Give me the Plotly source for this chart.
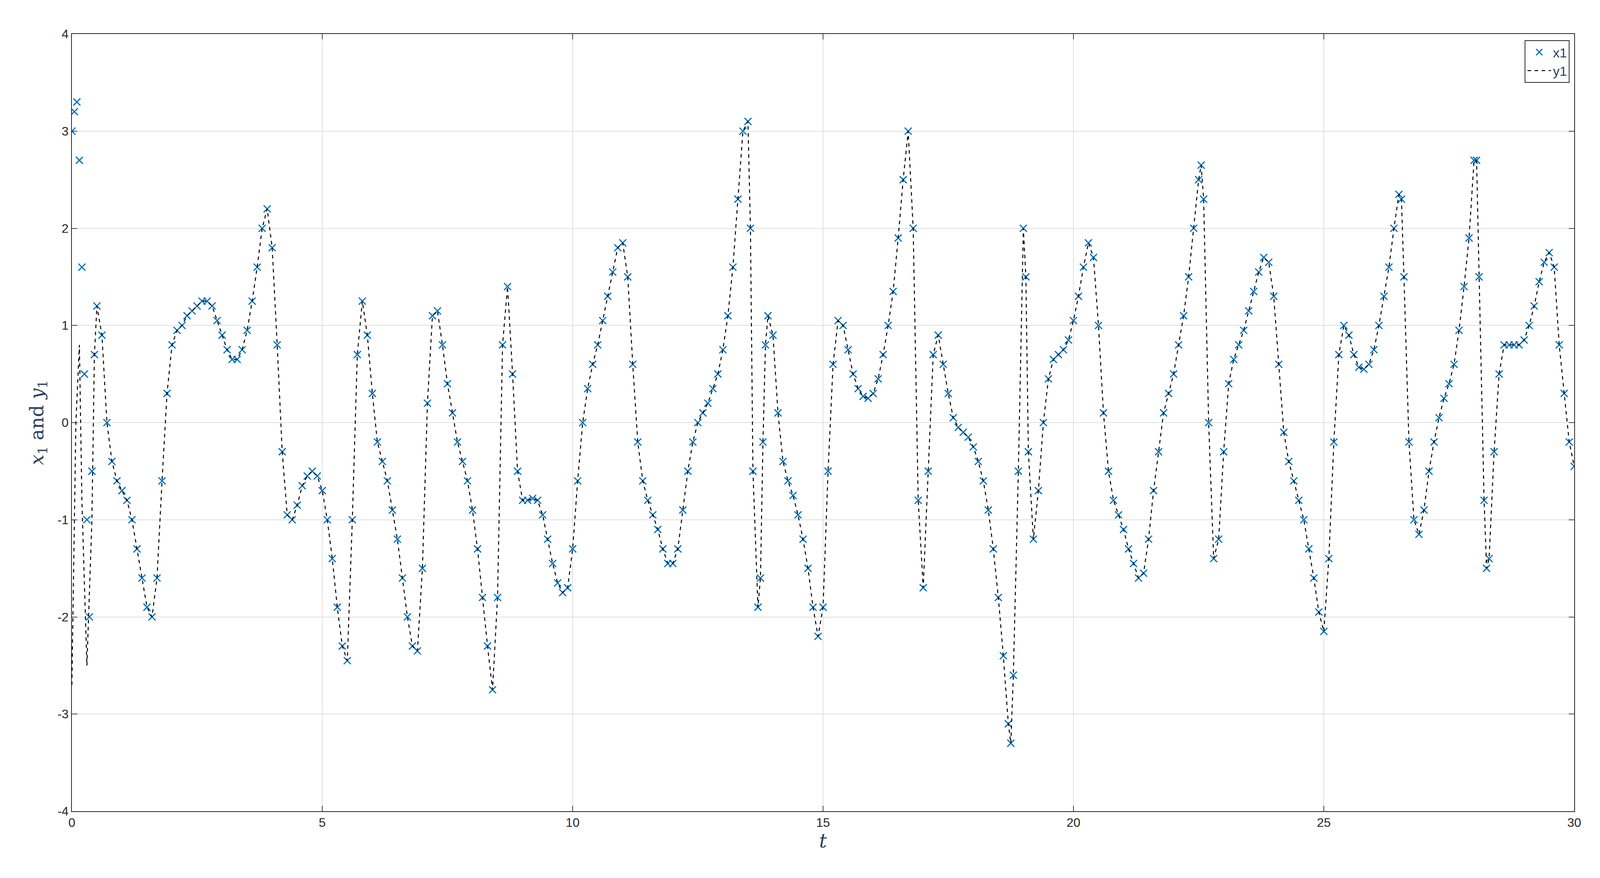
import plotly.graph_objects as go

# x1, (t, value) pairs
x1_pts = [
    (0.0, 3.0), (0.05, 3.2), (0.1, 3.3), (0.15, 2.7), (0.2, 1.6), (0.25, 0.5), (0.3, -1.0), (0.35, -2.0),
    (0.4, -0.5), (0.45, 0.7), (0.5, 1.2), (0.6, 0.9), (0.7, 0.0), (0.8, -0.4), (0.9, -0.6), (1.0, -0.7),
    (1.1, -0.8), (1.2, -1.0), (1.3, -1.3), (1.4, -1.6), (1.5, -1.9), (1.6, -2.0), (1.7, -1.6), (1.8, -0.6),
    (1.9, 0.3), (2.0, 0.8), (2.1, 0.95), (2.2, 1.0), (2.3, 1.1), (2.4, 1.15), (2.5, 1.2), (2.6, 1.25),
    (2.7, 1.25), (2.8, 1.2), (2.9, 1.05), (3.0, 0.9), (3.1, 0.75), (3.2, 0.65), (3.3, 0.65), (3.4, 0.75),
    (3.5, 0.95), (3.6, 1.25), (3.7, 1.6), (3.8, 2.0), (3.9, 2.2), (4.0, 1.8), (4.1, 0.8), (4.2, -0.3),
    (4.3, -0.95), (4.4, -1.0), (4.5, -0.85), (4.6, -0.65), (4.7, -0.55), (4.8, -0.5), (4.9, -0.55),
    (5.0, -0.7), (5.1, -1.0), (5.2, -1.4), (5.3, -1.9), (5.4, -2.3), (5.5, -2.45), (5.6, -1.0), (5.7, 0.7),
    (5.8, 1.25), (5.9, 0.9), (6.0, 0.3), (6.1, -0.2), (6.2, -0.4), (6.3, -0.6), (6.4, -0.9), (6.5, -1.2),
    (6.6, -1.6), (6.7, -2.0), (6.8, -2.3), (6.9, -2.35), (7.0, -1.5), (7.1, 0.2), (7.2, 1.1), (7.3, 1.15),
    (7.4, 0.8), (7.5, 0.4), (7.6, 0.1), (7.7, -0.2), (7.8, -0.4), (7.9, -0.6), (8.0, -0.9), (8.1, -1.3),
    (8.2, -1.8), (8.3, -2.3), (8.4, -2.75), (8.5, -1.8), (8.6, 0.8), (8.7, 1.4), (8.8, 0.5), (8.9, -0.5),
    (9.0, -0.8), (9.1, -0.8), (9.2, -0.78), (9.3, -0.8), (9.4, -0.95), (9.5, -1.2), (9.6, -1.45),
    (9.7, -1.65), (9.8, -1.75), (9.9, -1.7), (10.0, -1.3), (10.1, -0.6), (10.2, 0.0), (10.3, 0.35),
    (10.4, 0.6), (10.5, 0.8), (10.6, 1.05), (10.7, 1.3), (10.8, 1.55), (10.9, 1.8), (11.0, 1.85),
    (11.1, 1.5), (11.2, 0.6), (11.3, -0.2), (11.4, -0.6), (11.5, -0.8), (11.6, -0.95), (11.7, -1.1),
    (11.8, -1.3), (11.9, -1.45), (12.0, -1.45), (12.1, -1.3), (12.2, -0.9), (12.3, -0.5), (12.4, -0.2),
    (12.5, 0.0), (12.6, 0.1), (12.7, 0.2), (12.8, 0.35), (12.9, 0.5), (13.0, 0.75), (13.1, 1.1),
    (13.2, 1.6), (13.3, 2.3), (13.4, 3.0), (13.5, 3.1), (13.55, 2.0), (13.6, -0.5), (13.7, -1.9),
    (13.75, -1.6), (13.8, -0.2), (13.85, 0.8), (13.9, 1.1), (14.0, 0.9), (14.1, 0.1), (14.2, -0.4),
    (14.3, -0.6), (14.4, -0.75), (14.5, -0.95), (14.6, -1.2), (14.7, -1.5), (14.8, -1.9), (14.9, -2.2),
    (15.0, -1.9), (15.1, -0.5), (15.2, 0.6), (15.3, 1.05), (15.4, 1.0), (15.5, 0.75), (15.6, 0.5),
    (15.7, 0.35), (15.8, 0.27), (15.9, 0.25), (16.0, 0.3), (16.1, 0.45), (16.2, 0.7), (16.3, 1.0),
    (16.4, 1.35), (16.5, 1.9), (16.6, 2.5), (16.7, 3.0), (16.8, 2.0), (16.9, -0.8), (17.0, -1.7),
    (17.1, -0.5), (17.2, 0.7), (17.3, 0.9), (17.4, 0.6), (17.5, 0.3), (17.6, 0.05), (17.7, -0.05),
    (17.8, -0.1), (17.9, -0.15), (18.0, -0.25), (18.1, -0.4), (18.2, -0.6), (18.3, -0.9), (18.4, -1.3),
    (18.5, -1.8), (18.6, -2.4), (18.7, -3.1), (18.75, -3.3), (18.8, -2.6), (18.9, -0.5), (19.0, 2.0),
    (19.05, 1.5), (19.1, -0.3), (19.2, -1.2), (19.3, -0.7), (19.4, 0.0), (19.5, 0.45), (19.6, 0.65),
    (19.7, 0.7), (19.8, 0.75), (19.9, 0.85), (20.0, 1.05), (20.1, 1.3), (20.2, 1.6), (20.3, 1.85),
    (20.4, 1.7), (20.5, 1.0), (20.6, 0.1), (20.7, -0.5), (20.8, -0.8), (20.9, -0.95), (21.0, -1.1),
    (21.1, -1.3), (21.2, -1.45), (21.3, -1.6), (21.4, -1.55), (21.5, -1.2), (21.6, -0.7), (21.7, -0.3),
    (21.8, 0.1), (21.9, 0.3), (22.0, 0.5), (22.1, 0.8), (22.2, 1.1), (22.3, 1.5), (22.4, 2.0),
    (22.5, 2.5), (22.55, 2.65), (22.6, 2.3), (22.7, 0.0), (22.8, -1.4), (22.9, -1.2), (23.0, -0.3),
    (23.1, 0.4), (23.2, 0.65), (23.3, 0.8), (23.4, 0.95), (23.5, 1.15), (23.6, 1.35), (23.7, 1.55),
    (23.8, 1.7), (23.9, 1.65), (24.0, 1.3), (24.1, 0.6), (24.2, -0.1), (24.3, -0.4), (24.4, -0.6),
    (24.5, -0.8), (24.6, -1.0), (24.7, -1.3), (24.8, -1.6), (24.9, -1.95), (25.0, -2.15), (25.1, -1.4),
    (25.2, -0.2), (25.3, 0.7), (25.4, 1.0), (25.5, 0.9), (25.6, 0.7), (25.7, 0.57), (25.8, 0.55),
    (25.9, 0.6), (26.0, 0.75), (26.1, 1.0), (26.2, 1.3), (26.3, 1.6), (26.4, 2.0), (26.5, 2.35),
    (26.55, 2.3), (26.6, 1.5), (26.7, -0.2), (26.8, -1.0), (26.9, -1.15), (27.0, -0.9), (27.1, -0.5),
    (27.2, -0.2), (27.3, 0.05), (27.4, 0.25), (27.5, 0.4), (27.6, 0.6), (27.7, 0.95), (27.8, 1.4),
    (27.9, 1.9), (28.0, 2.7), (28.05, 2.7), (28.1, 1.5), (28.2, -0.8), (28.25, -1.5), (28.3, -1.4),
    (28.4, -0.3), (28.5, 0.5), (28.6, 0.8), (28.7, 0.8), (28.8, 0.8), (28.9, 0.8), (29.0, 0.85),
    (29.1, 1.0), (29.2, 1.2), (29.3, 1.45), (29.4, 1.65), (29.5, 1.75), (29.6, 1.6), (29.7, 0.8),
    (29.8, 0.3), (29.9, -0.2), (30.0, -0.45),
]
# y1 differs from x1 only at the start, then follows it
y1_start = [(0.0, -2.7), (0.08, 0.0), (0.15, 0.8), (0.2, -0.8), (0.3, -2.5), (0.4, -1.0), (0.45, 0.7)]

x_ticks = [0, 5, 10, 15, 20, 25, 30]
y_ticks = [-4, -3, -2, -1, 0, 1, 2, 3, 4]

t_x = [p[0] for p in x1_pts]
x1 = [p[1] for p in x1_pts]
y1_pts = y1_start + [p for p in x1_pts if p[0] > 0.45]
t_y = [p[0] for p in y1_pts]
y1 = [p[1] for p in y1_pts]

fig = go.Figure()
fig.add_trace(go.Scatter(x=t_x, y=x1, mode="markers", name="x1",
                         marker=dict(symbol="x-thin", size=18, line=dict(width=3, color="#0072BD"),
                                     color="#0072BD")))
fig.add_trace(go.Scatter(x=t_y, y=y1, mode="lines", name="y1",
                         line=dict(color="black", width=2.5, dash="dash")))

axis = dict(showline=True, linecolor="#262626", linewidth=2, mirror="ticks", ticks="inside",
            ticklen=14, tickwidth=2, showgrid=True, gridcolor="#dfdfdf", gridwidth=2,
            zeroline=False, tickfont=dict(size=32, family="Liberation Sans", color="#262626"))
fig.update_xaxes(axis, range=[0, 30], tickvals=x_ticks, ticktext=[str(v) for v in x_ticks],
                 title=dict(text="<i>t</i>", font=dict(size=50, family="DejaVu Serif"), standoff=10))
fig.update_yaxes(axis, range=[-4, 4], tickvals=y_ticks, ticktext=[str(v) for v in y_ticks],
                 title=dict(text="<i>x</i><sub>1</sub> and <i>y</i><sub>1</sub>",
                            font=dict(size=48, family="DejaVu Serif"), standoff=20))
fig.update_layout(
    width=4107, height=2248, plot_bgcolor="white", paper_bgcolor="white",
    margin=dict(l=176, r=85, t=79, b=179),
    legend=dict(x=0.997, y=0.992, xanchor="right", yanchor="top", bgcolor="white",
                bordercolor="#262626", borderwidth=2, itemwidth=60,
                font=dict(size=34, family="Liberation Sans")),
)
fig.write_html("out.html")
